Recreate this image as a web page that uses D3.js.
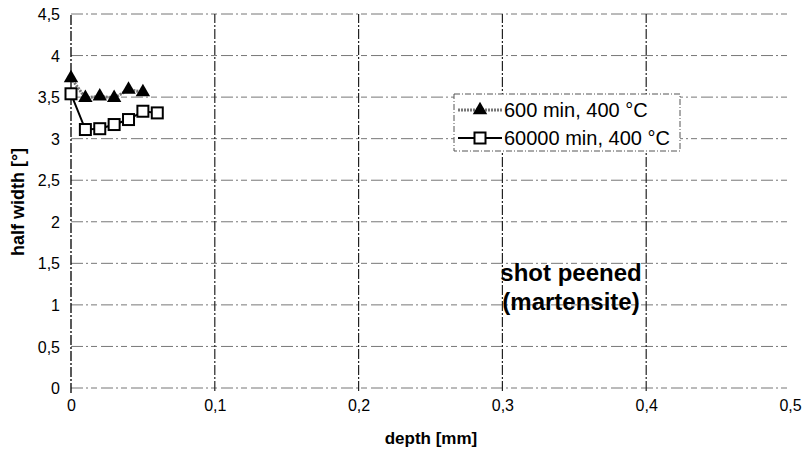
<!DOCTYPE html>
<html>
<head>
<meta charset="utf-8">
<script src="https://cdn.jsdelivr.net/npm/d3@7"></script>
<style>
	body { margin: 0; background: #fff; }
	svg text { font-family: "Liberation Sans", Arial, sans-serif; fill: #000; }
</style>
</head>
<body>
<svg id="chart" width="804" height="454"></svg>
<script>
// data
var depth600 = [0, 0.01, 0.02, 0.03, 0.04, 0.05];
var width600 = [3.73, 3.49, 3.51, 3.49, 3.59, 3.56];
var depth60000 = [0, 0.01, 0.02, 0.03, 0.04, 0.05, 0.06];
var width60000 = [3.54, 3.11, 3.12, 3.17, 3.23, 3.33, 3.31];
var xTicks = [0, 0.1, 0.2, 0.3, 0.4, 0.5];
var yTicks = [0, 0.5, 1, 1.5, 2, 2.5, 3, 3.5, 4, 4.5];
var seriesNames = ['600 min, 400 °C', '60000 min, 400 °C'];

var svg = d3.select('#chart');
var x = d3.scaleLinear().domain([0, 0.5]).range([71, 790]);
var y = d3.scaleLinear().domain([0, 4.5]).range([388, 14]);
var fmt = function(d) { return String(d).replace('.', ','); };

//grid
svg.append('g').selectAll('line')
	.data(yTicks)
	.enter().append('line')
	.attr('x1', x(0)).attr('x2', x(0.5))
	.attr('y1', function(d) { return y(d); }).attr('y2', function(d) { return y(d); })
	.attr('stroke', '#777').attr('stroke-width', 1)
	.attr('stroke-dasharray', '12,3,2,3,6,4');
svg.append('g').selectAll('line')
	.data(xTicks.slice(1, 5))
	.enter().append('line')
	.attr('x1', function(d) { return x(d); }).attr('x2', function(d) { return x(d); })
	.attr('y1', y(0) + 3).attr('y2', y(4.5))
	.attr('stroke', '#222').attr('stroke-width', 1.2)
	.attr('stroke-dasharray', '10,2,2,2');

//left axis line
svg.append('line')
	.attr('x1', x(0)).attr('x2', x(0))
	.attr('y1', y(0) + 5).attr('y2', y(4.5))
	.attr('stroke', '#000').attr('stroke-width', 1.3)
	.attr('stroke-dasharray', '10,2,2,2');

//axes labels
var yAxis = d3.axisLeft(y).tickValues(yTicks).tickFormat(fmt).tickSize(0).tickPadding(11);
svg.append('g').attr('transform', 'translate(' + x(0) + ',0)').call(yAxis)
	.call(function(g) { g.select('.domain').remove(); })
	.selectAll('text').style('font-size', '16px').attr('dy', '0.35em');
var xAxis = d3.axisBottom(x).tickValues(xTicks).tickFormat(fmt).tickSize(0).tickPadding(12);
svg.append('g').attr('transform', 'translate(0,' + y(0) + ')').call(xAxis)
	.call(function(g) { g.select('.domain').remove(); })
	.selectAll('text').style('font-size', '16px').attr('dy', '0.71em');

svg.append('text')
	.attr('x', 431).attr('y', 444)
	.attr('text-anchor', 'middle')
	.style('font-size', '17px').style('font-weight', 'bold')
	.text('depth [mm]');
svg.append('text')
	.attr('transform', 'translate(24,202) rotate(-90)')
	.attr('text-anchor', 'middle')
	.style('font-size', '18px').style('font-weight', 'bold')
	.text('half width [°]');

//series lines
var line = d3.line()
	.x(function(d) { return x(d[0]); })
	.y(function(d) { return y(d[1]); });
var pts600 = d3.zip(depth600, width600);
var pts60000 = d3.zip(depth60000, width60000);
var tri = d3.symbol().type(d3.symbolTriangle).size(90);

svg.append('path').datum(pts600)
	.attr('d', line).attr('fill', 'none')
	.attr('stroke', '#777').attr('stroke-width', 3).attr('stroke-dasharray', '2,1');
svg.append('path').datum(pts60000)
	.attr('d', line).attr('fill', 'none')
	.attr('stroke', '#000').attr('stroke-width', 2);

//markers
svg.append('g').selectAll('path')
	.data(pts600)
	.enter().append('path')
	.attr('d', tri)
	.attr('transform', function(d) { return 'translate(' + x(d[0]) + ',' + y(d[1]) + ')'; })
	.attr('fill', '#000');
svg.append('g').selectAll('rect')
	.data(pts60000)
	.enter().append('rect')
	.attr('x', function(d) { return x(d[0]) - 5.5; })
	.attr('y', function(d) { return y(d[1]) - 5.5; })
	.attr('width', 11).attr('height', 11)
	.attr('fill', '#fff').attr('stroke', '#000').attr('stroke-width', 2);

//legend
var legend = svg.append('g').attr('transform', 'translate(454,94)');
legend.append('rect')
	.attr('width', 226).attr('height', 57)
	.attr('fill', '#fff').attr('stroke', '#555').attr('stroke-width', 1)
	.attr('stroke-dasharray', '6,2,1,2');
var rows = legend.selectAll('g.row')
	.data(seriesNames)
	.enter().append('g')
	.attr('class', 'row')
	.attr('transform', function(d, i) { return 'translate(0,' + (16 + i * 28) + ')'; });
rows.append('line')
	.attr('x1', 4).attr('x2', 48).attr('y1', 0).attr('y2', 0)
	.attr('stroke', function(d, i) { return i == 0 ? '#777' : '#000'; })
	.attr('stroke-width', function(d, i) { return i == 0 ? 3 : 2; })
	.attr('stroke-dasharray', function(d, i) { return i == 0 ? '2,1' : null; });
rows.filter(function(d, i) { return i == 0; }).append('path')
	.attr('d', tri).attr('transform', 'translate(26,0)').attr('fill', '#000');
rows.filter(function(d, i) { return i == 1; }).append('rect')
	.attr('x', 20.5).attr('y', -5.5).attr('width', 11).attr('height', 11)
	.attr('fill', '#fff').attr('stroke', '#000').attr('stroke-width', 2);
rows.append('text')
	.attr('x', 50).attr('dy', '0.35em')
	.style('font-size', '20px')
	.text(function(d) { return d; });

//annotation
var note = svg.append('text')
	.attr('x', 571).attr('y', 281)
	.attr('text-anchor', 'middle')
	.style('font-size', '24px').style('font-weight', 'bold');
note.append('tspan').attr('x', 571).text('shot peened');
note.append('tspan').attr('x', 571).attr('dy', 29).text('(martensite)');
</script>
</body>
</html>
